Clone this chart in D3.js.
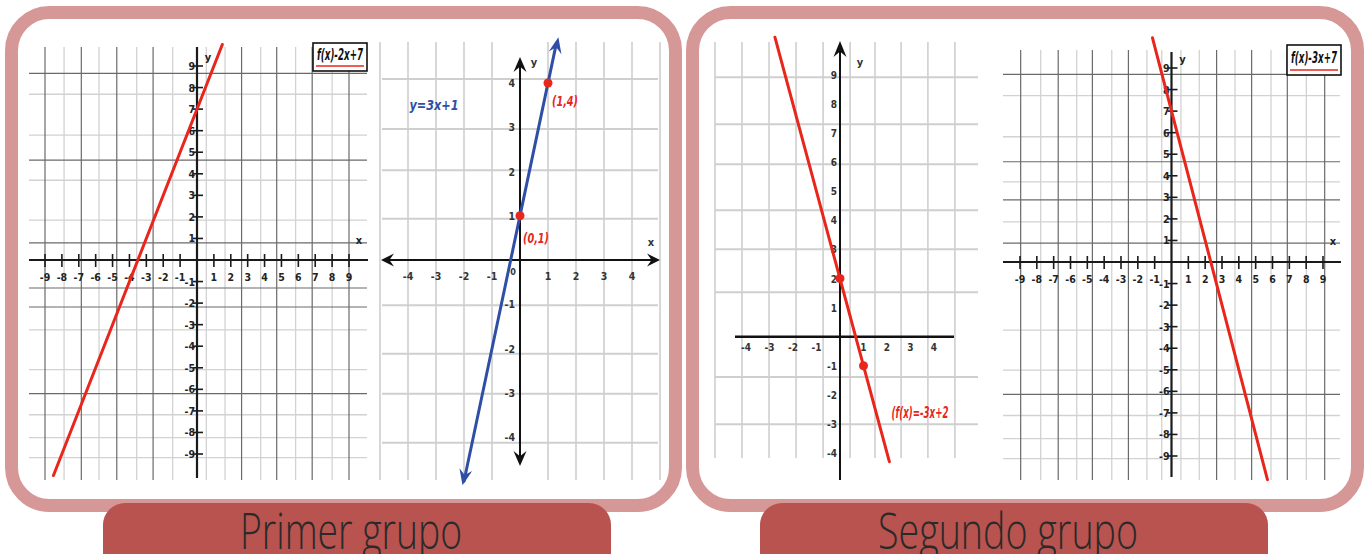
<!DOCTYPE html>
<html><head><meta charset="utf-8">
<script src="https://cdn.jsdelivr.net/npm/d3@7"></script>
<style>html,body{margin:0;padding:0;background:#fff;overflow:hidden}</style>
</head><body>
<svg id="c" width="1365" height="554"></svg>
<script>
// ---------- DATA ----------
const ticks9 = [-9,-8,-7,-6,-5,-4,-3,-2,-1,1,2,3,4,5,6,7,8,9];
const ticks4 = [-4,-3,-2,-1,1,2,3,4];
const ticksC_y = [-4,-3,-2,-1,1,2,3,4,5,6,7,8,9];

// function lines (endpoints)
const lineA_x = [-8.5, 1.5],  lineA_y = [-10, 10];     // f(x)=2x+7
const lineB_x = [-2.0, 1.3],  lineB_y = [-5, 4.9];     // y=3x+1
const lineC_x = [-2.77, 2.1], lineC_y = [10.3, -4.3];  // f(x)=-3x+2
const lineD_x = [-1.13, 5.7], lineD_y = [10.4, -10.1]; // f(x)=-3x+7

const pointsB_x = [0, 1], pointsB_y = [1, 4], pointsB_lbl = ["(0,1)", "(1,4)"];
const pointsC_x = [0, 1], pointsC_y = [2, -1];

const titles = ["f(x)-2x+7", "y=3x+1", "(f(x)=-3x+2", "f(x)-3x+7"];
const groups = ["Primer grupo", "Segundo grupo"];

// background grid-paper lines (data units)
const gridA_vDark  = [-9, -6.85, -4.75, -2.6, 2.64, 4.72, 6.82, 9.0];
const gridA_vLight = [-7.87, -5.8, -3.57, -1.44, 0.55, 1.66, 3.77, 5.84, 8.0];
const gridA_hDark  = [8.66, 4.63, 0.79, -1.3, -2.18, -6.2];
const gridA_hLight = [7.69, 5.79, 3.7, 1.85, -3.24, -5.09, -7.18, -8.24, -9.17];

const gridB_v = [-5, -4, -3, -2, -1, 1, 2, 3, 4, 5];
const gridB_h = [4.09, 2.96, 2.03, 0.93, -1.02, -2.12, -3.02, -4.13];

const gridC_v = [-5.32, -4.17, -3.02, -1.87, -0.72, 0.43, 1.49, 2.6, 3.74, 4.89];
const gridC_h = [8.92, 7.31, 5.93, 4.35, 3.01, 1.53, -1.39, -3.01];

const gridD_vDark  = [-8.96, -6.73, -4.7, -2.56, 2.68, 4.76, 6.88, 9.1];
const gridD_vLight = [-7.77, -5.63, -3.55, -1.46, -0.58, 0.56, 1.65, 3.77, 5.91, 8.01];
const gridD_hDark  = [8.7, 4.65, 2.88, 0.88, -6.14];
const gridD_hLight = [7.72, 5.81, 3.72, 1.86, -3.16, -5.02, -7.12, -8.19, -9.12];

// ---------- DRAW ----------
const svg = d3.select('#c');
const RED = '#e8261c', BLUE = '#2f4fa6', PINK = '#d69797', BOX = '#b8534f';
const narrow = "'Liberation Sans Narrow','Arial Narrow','DejaVu Sans Condensed',sans-serif";

// panels
svg.append('rect').attr('x', 11.5).attr('y', 12.5).attr('width', 664).attr('height', 493)
  .attr('rx', 38).attr('fill', '#fff').attr('stroke', PINK).attr('stroke-width', 13);
svg.append('rect').attr('x', 692.5).attr('y', 12.5).attr('width', 665).attr('height', 493)
  .attr('rx', 38).attr('fill', '#fff').attr('stroke', PINK).attr('stroke-width', 13);

function arrow(g, tx, ty, fx, fy, L, Wd, color) {
  const dx = tx - fx, dy = ty - fy, len = Math.hypot(dx, dy);
  const ux = dx / len, uy = dy / len, nx = -uy, ny = ux;
  const bx = tx - ux * L, by = ty - uy * L;
  const mx = tx - ux * L * 0.65, my = ty - uy * L * 0.65;
  g.append('path')
    .attr('d', `M${tx},${ty}L${bx + nx * Wd},${by + ny * Wd}L${mx},${my}L${bx - nx * Wd},${by - ny * Wd}Z`)
    .attr('fill', color);
}

function vlines(g, vals, x, y1, y2, color, w) {
  g.selectAll(null).data(vals).join('line')
    .attr('x1', d => x(d)).attr('x2', d => x(d)).attr('y1', y1).attr('y2', y2)
    .attr('stroke', color).attr('stroke-width', w);
}
function hlines(g, vals, y, x1, x2, color, w) {
  g.selectAll(null).data(vals).join('line')
    .attr('y1', d => y(d)).attr('y2', d => y(d)).attr('x1', x1).attr('x2', x2)
    .attr('stroke', color).attr('stroke-width', w);
}
function fline(g, x, y, xs, ys, color, w) {
  const pts = xs.map((d, i) => [x(d), y(ys[i])]);
  g.append('path').attr('d', d3.line()(pts)).attr('fill', 'none')
    .attr('stroke', color).attr('stroke-width', w).attr('stroke-linecap', 'round');
  return pts;
}
function titleBox(g, cx, top, w, h, txt) {
  g.append('rect').attr('x', cx - w / 2).attr('y', top).attr('width', w).attr('height', h)
    .attr('fill', '#fff').attr('stroke', '#111').attr('stroke-width', 1.6);
  g.append('text').attr('x', cx).attr('y', top + h * 0.6).attr('text-anchor', 'middle')
    .attr('font-family', narrow).attr('font-weight', 'bold').attr('font-style', 'italic')
    .attr('font-size', 15).attr('textLength', w - 8).attr('lengthAdjust', 'spacingAndGlyphs')
    .attr('fill', '#111').text(txt);
  g.append('line').attr('x1', cx - w / 2 + 3).attr('x2', cx + w / 2 - 3)
    .attr('y1', top + h - 5).attr('y2', top + h - 5).attr('stroke', RED).attr('stroke-width', 1.5);
}
function lbl(g, x, y, t, size, anchor, color, extra) {
  const s = g.append('text').attr('x', x).attr('y', y).attr('text-anchor', anchor || 'middle')
    .attr('font-family', narrow).attr('font-weight', 'bold').attr('font-size', size)
    .attr('fill', color || '#222').text(t);
  if (extra) extra(s);
  return s;
}

// ===== Chart A : f(x)=2x+7 =====
(function () {
  const g = svg.append('g');
  const x = d3.scaleLinear().domain([-9, 9]).range([45, 349]);
  const y = d3.scaleLinear().domain([9, -9]).range([66, 454]);
  vlines(g, gridA_vLight, x, 47, 480, '#d2d2d2', 1.3);
  hlines(g, gridA_hLight, y, 29, 367, '#d2d2d2', 1.3);
  vlines(g, gridA_vDark, x, 47, 480, '#6a6a6a', 1.2);
  hlines(g, gridA_hDark, y, 29, 367, '#6a6a6a', 1.2);
  g.append('line').attr('x1', 29).attr('x2', 368).attr('y1', y(0)).attr('y2', y(0)).attr('stroke', '#1a1a1a').attr('stroke-width', 2.2);
  g.append('line').attr('x1', x(0)).attr('x2', x(0)).attr('y1', 47).attr('y2', 478).attr('stroke', '#1a1a1a').attr('stroke-width', 2.2);
  g.selectAll(null).data(ticks9).join('line').attr('x1', d => x(d)).attr('x2', d => x(d))
    .attr('y1', y(0) - 6).attr('y2', y(0) + 7).attr('stroke', '#1a1a1a').attr('stroke-width', 1.6);
  g.selectAll(null).data(ticks9).join('line').attr('y1', d => y(d)).attr('y2', d => y(d))
    .attr('x1', x(0) - 4).attr('x2', x(0) + 6).attr('stroke', '#1a1a1a').attr('stroke-width', 1.6);
  ticks9.forEach(d => lbl(g, x(d), y(0) + 21, d, 10.5, 'middle'));
  ticks9.forEach(d => lbl(g, x(0) - 2, y(d) + 4, d, 10.5, 'end'));
  lbl(g, x(0) + 11, 61, 'y', 11, 'middle');
  lbl(g, 359, 244, 'x', 11, 'middle');
  fline(g, x, y, lineA_x, lineA_y, RED, 3);
  titleBox(g, 340, 43, 54, 28, titles[0]);
})();

// ===== Chart B : y=3x+1 =====
(function () {
  const g = svg.append('g');
  const x = d3.scaleLinear().domain([-4, 4]).range([408, 632]);
  const y = d3.scaleLinear().domain([4, -4]).range([83, 437]);
  vlines(g, gridB_v, x, 42, 480, '#cfcfcf', 1.6);
  hlines(g, gridB_h, y, 382, 658, '#cfcfcf', 2);
  g.append('line').attr('x1', 386).attr('x2', 655).attr('y1', y(0)).attr('y2', y(0)).attr('stroke', '#111').attr('stroke-width', 2.2);
  g.append('line').attr('x1', x(0)).attr('x2', x(0)).attr('y1', 62).attr('y2', 460).attr('stroke', '#111').attr('stroke-width', 2);
  arrow(g, 381, y(0), 400, y(0), 13, 6.5, '#111');
  arrow(g, 660, y(0), 640, y(0), 13, 6.5, '#111');
  arrow(g, x(0), 57, x(0), 80, 15, 6.5, '#111');
  arrow(g, x(0), 466, x(0), 440, 15, 6.5, '#111');
  ticks4.forEach(d => lbl(g, x(d), y(0) + 20, d, 10.5, 'middle', '#333'));
  ticks4.forEach(d => lbl(g, x(0) - 5, y(d) + 4, d, 10.5, 'end', '#333'));
  lbl(g, x(0) - 7, y(0) + 15, '0', 9, 'middle', '#333');
  lbl(g, x(0) + 14, 66, 'y', 11, 'middle', '#333');
  lbl(g, 651, 246, 'x', 11, 'middle', '#333');
  const pts = fline(g, x, y, lineB_x, lineB_y, BLUE, 3);
  arrow(g, pts[1][0] + 2, pts[1][1] - 6, pts[0][0], pts[0][1], 16, 6.5, BLUE);
  arrow(g, pts[0][0] - 1.5, pts[0][1] + 4, pts[1][0], pts[1][1], 16, 6.5, BLUE);
  g.selectAll(null).data(pointsB_x).join('circle')
    .attr('cx', d => x(d)).attr('cy', (d, i) => y(pointsB_y[i])).attr('r', 4.5).attr('fill', RED);
  lbl(g, x(pointsB_x[0]) + 16, y(pointsB_y[0]) + 27, pointsB_lbl[0], 14, 'middle', RED,
    s => s.attr('font-style', 'italic').attr('textLength', 26).attr('lengthAdjust', 'spacingAndGlyphs'));
  lbl(g, x(pointsB_x[1]) + 17, y(pointsB_y[1]) + 23, pointsB_lbl[1], 14, 'middle', RED,
    s => s.attr('font-style', 'italic').attr('textLength', 26).attr('lengthAdjust', 'spacingAndGlyphs'));
  lbl(g, 434, 110, titles[1], 14, 'middle', BLUE, s => s.attr('font-style', 'italic')
    .attr('textLength', 49).attr('lengthAdjust', 'spacingAndGlyphs'));
})();

// ===== Chart C : f(x)=-3x+2 =====
(function () {
  const g = svg.append('g');
  const x = d3.scaleLinear().domain([-4, 4]).range([746, 934]);
  const y = d3.scaleLinear().domain([9, -4]).range([75, 453]);
  vlines(g, gridC_v, x, 42, 458, '#cfcfcf', 1.6);
  hlines(g, gridC_h, y, 715, 978, '#cfcfcf', 2);
  g.append('line').attr('x1', 735).attr('x2', 954).attr('y1', y(0)).attr('y2', y(0)).attr('stroke', '#111').attr('stroke-width', 2.4);
  g.append('line').attr('x1', x(0)).attr('x2', x(0)).attr('y1', 50).attr('y2', 480).attr('stroke', '#111').attr('stroke-width', 2);
  arrow(g, x(0), 41, x(0), 70, 16, 6.5, '#111');
  ticks4.forEach(d => lbl(g, x(d), y(0) + 14, d, 10, 'middle', '#333'));
  ticksC_y.forEach(d => lbl(g, x(0) - 3, y(d) + 4, d, 10, 'end', '#333'));
  lbl(g, x(0) + 20, 66, 'y', 11, 'middle', '#333');
  fline(g, x, y, lineC_x, lineC_y, RED, 3);
  g.selectAll(null).data(pointsC_x).join('circle')
    .attr('cx', d => x(d)).attr('cy', (d, i) => y(pointsC_y[i])).attr('r', 4.5).attr('fill', RED);
  lbl(g, 920, 418, titles[2], 15, 'middle', RED, s => s.attr('font-style', 'italic')
    .attr('textLength', 57).attr('lengthAdjust', 'spacingAndGlyphs'));
})();

// ===== Chart D : f(x)=-3x+7 =====
(function () {
  const g = svg.append('g');
  const x = d3.scaleLinear().domain([-9, 9]).range([1020, 1323]);
  const y = d3.scaleLinear().domain([9, -9]).range([68, 456]);
  vlines(g, gridD_vLight, x, 50, 480, '#d2d2d2', 1.3);
  hlines(g, gridD_hLight, y, 1003, 1340, '#d2d2d2', 1.3);
  vlines(g, gridD_vDark, x, 50, 480, '#6a6a6a', 1.2);
  hlines(g, gridD_hDark, y, 1003, 1340, '#6a6a6a', 1.2);
  g.append('line').attr('x1', 1003).attr('x2', 1341).attr('y1', y(0)).attr('y2', y(0)).attr('stroke', '#1a1a1a').attr('stroke-width', 2.2);
  g.append('line').attr('x1', x(0)).attr('x2', x(0)).attr('y1', 52).attr('y2', 477).attr('stroke', '#1a1a1a').attr('stroke-width', 2.2);
  g.selectAll(null).data(ticks9).join('line').attr('x1', d => x(d)).attr('x2', d => x(d))
    .attr('y1', y(0) - 6).attr('y2', y(0) + 7).attr('stroke', '#1a1a1a').attr('stroke-width', 1.6);
  g.selectAll(null).data(ticks9).join('line').attr('y1', d => y(d)).attr('y2', d => y(d))
    .attr('x1', x(0) - 4).attr('x2', x(0) + 6).attr('stroke', '#1a1a1a').attr('stroke-width', 1.6);
  ticks9.forEach(d => lbl(g, x(d), y(0) + 21, d, 10.5, 'middle'));
  ticks9.forEach(d => lbl(g, x(0) - 2, y(d) + 4, d, 10.5, 'end'));
  lbl(g, x(0) + 11, 63, 'y', 11, 'middle');
  lbl(g, 1333, 245, 'x', 11, 'middle');
  fline(g, x, y, lineD_x, lineD_y, RED, 3);
  titleBox(g, 1314, 45, 54, 30, titles[3]);
})();

// ===== group labels =====
svg.append('rect').attr('x', 103).attr('y', 503).attr('width', 508).attr('height', 90).attr('rx', 22).attr('fill', BOX);
svg.append('rect').attr('x', 760).attr('y', 503).attr('width', 508).attr('height', 90).attr('rx', 22).attr('fill', BOX);
svg.append('text').attr('x', 351).attr('y', 549).attr('text-anchor', 'middle')
  .attr('font-family', "'Open Sans',sans-serif").attr('font-weight', 300).attr('font-size', 50)
  .attr('textLength', 222).attr('lengthAdjust', 'spacingAndGlyphs').attr('fill', '#2a2a2a').text(groups[0]);
svg.append('text').attr('x', 1008).attr('y', 549).attr('text-anchor', 'middle')
  .attr('font-family', "'Open Sans',sans-serif").attr('font-weight', 300).attr('font-size', 50)
  .attr('textLength', 260).attr('lengthAdjust', 'spacingAndGlyphs').attr('fill', '#2a2a2a').text(groups[1]);
</script>
</body></html>
